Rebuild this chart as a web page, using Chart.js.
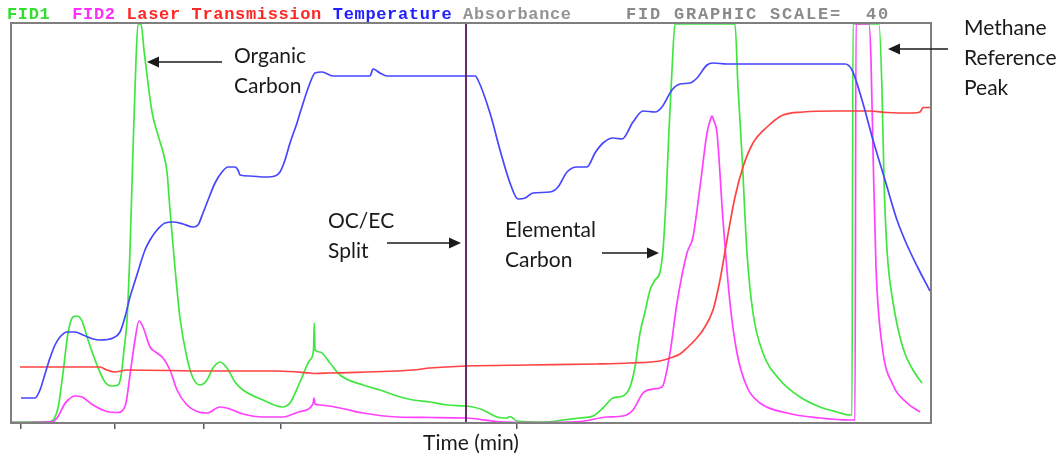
<!DOCTYPE html>
<html>
<head>
<meta charset="utf-8">
<title>Thermal-optical carbon analysis</title>
<script src="https://cdn.jsdelivr.net/npm/chart.js@4.4.1/dist/chart.umd.min.js"></script>
<style>
  html, body { margin: 0; padding: 0; background: #fff; }
  canvas { display: block; }
</style>
</head>
<body>
<canvas id="thermogram" width="1061" height="456"></canvas>
<script>
// run time in seconds, signals in instrument counts (0-400 fills the plot)
const fid1Time = [0,39,43,47,52,57,62,66,71,77,86,94,101,107,110,113,116,119,122,125,127,130,133,136,141,147,152,156,159,164,169,176,182,189,196,202,209,216,224,232,252,271,279,289,299,302.5,303.3,304,309,319,329,352,369,386,402,419,436,455,462,472,486,496,499,506,536,552,569,582,592,602,612,619,624,629,634,639,644,649,652,655,658,661,664,724,727,731,736,742,752,769,789,809,826,839,841,842,868,871,873,876,882,892,902,911];
const fid1Signal = [1,1.5,4,15,50,90,106,107,102,83,58,41,37,38,47,73,103,173,273,363,399,399,373,348,311,288,271,251,213,155,105,65,45,38,43,55,61,55,41,33,23,16,20,41,63,73,100,73,71,60,48,38,33,27,23,21,18,17,16,13,6,5,6.5,2,1,3,5,7,15,25,27,36,56,90,111,133,143,151,173,223,293,353,399,399,336,268,170,110,70,43,26,16,11,8,8,399,399,333,243,173,121,75,53,40];

const fid2Time = [0,42,46,49,53,57,64,71,82,96,107,112,115,119,124,128,132,139,146,152,159,166,176,186,196,209,219,232,252,272,289,302,303,304,309,329,352,386,419,455,486,519,569,596,612,622,632,642,651,659,666,676,682,689,696,699,701,703,706,712,719,726,736,749,776,809,839,844,845,858,860,862,865,871,882,896,909];
const fid2Signal = [0.5,1.5,5,10,18,23,27,26,18,11.5,10.5,13,20,48,83,102,96,76,70,65,53,33,18,11.5,10,16,14,9,6,6,11.5,19,25,19,18,15,10,6,5.5,5,1.5,0.5,1.5,6,7,13,30,34,36,70,120,170,186,236,290,302,307,302,290,203,120,70,36,20,10,5,3,3,399,399,363,273,156,78,38,20,11];

const laserTime = [9,89,96,104,116,199,266,299,304,319,402,419,455,519,586,619,649,659,669,676,684,692,702,709,716,724,732,742,756,772,792,826,859,876,902,909,912,919];
const laserSignal = [56,56,53,51,53,52,52,50,49.5,50,53,55,57,58,59,60,62,65,69,75,83,93,113,143,183,226,256,280,296,308,311,312,312,310.5,310,311,315.5,315.5];

const tempTime = [10,24,29,34,39,44,49,56,64,72,82,89,102,109,114,119,124,129,134,139,146,154,162,172,182,187,192,199,204,211,217,224,227,229,239,254,264,269,274,279,286,289,299,304,311,322,359,362,369,376,464,467,479,489,499,507,514,522,539,547,556,566,576,584,592,602,611,622,632,644,651,661,669,679,686,696,702,716,834,841,851,862,874,886,896,907,919];
const tempSignal = [25,25,33,49,65,78,86,91,91,88,84,83,85,91,106,126,142,158,173,183,193,200,201,199,196,198,210,228,240,251,256,256,253,248,247,246,247,251,263,280,300,310,340,350,351,347,347,354,350,347,347,343,310,273,240,224,225,230,231,236,251,256,256,270,280,285,284,301,312,311,316,333,339,340,345,358,360,359,359,353,323,283,243,203,178,155,132];

const splitTime = 455;
const tickTimes = [10, 104, 193, 270, 506];
const fidScale = 40;

const headerLabels = ['FID1', 'FID2', 'Laser Transmission', 'Temperature', 'Absorbance'];
const headerGaps = [2, 1, 1, 1, 0];
const headerColors = ['#2fe02f', '#ff2eff', '#ff2626', '#2020ff', '#939393'];

// call-outs, anchored in data units (time, signal)
const notes = [
  { lines: ['Organic', 'Carbon'], text: [223, 360], from: [211, 361], to: [136, 361] },
  { lines: ['OC/EC', 'Split'], text: [317, 195], from: [376, 180], to: [450, 180] },
  { lines: ['Elemental', 'Carbon'], text: [494, 186], from: [591, 170], to: [648, 170] },
  { lines: ['Methane', 'Reference', 'Peak'], text: [953, 388], from: [937, 374], to: [877, 374] }
];

const trace = (label, times, values, color) => ({
  label,
  borderColor: color,
  borderWidth: 1.7,
  pointRadius: 0,
  fill: false,
  cubicInterpolationMode: 'monotone',
  data: times.map((t, i) => ({ x: t, y: values[i] }))
});

// monospace instrument header along the top
const headerPlugin = {
  id: 'header',
  afterDraw(chart) {
    const ctx = chart.ctx;
    ctx.save();
    ctx.font = 'bold 17px "Liberation Mono", "Courier New", monospace';
    ctx.textBaseline = 'alphabetic';
    const put = (text, x0, adv, col) => {
      for (let i = 0; i < text.length; i++) ctx.fillText(text[i], x0 + (col + i) * adv, 19);
    };
    let col = 0;
    headerLabels.forEach((label, i) => {
      ctx.fillStyle = headerColors[i];
      put(label, 7, 10.86, col);
      col += label.length + headerGaps[i];
    });
    ctx.fillStyle = '#8a8a8a';
    put('FID GRAPHIC SCALE=  ' + fidScale, 626, 12, 0);
    ctx.restore();
  }
};

const framePlugin = {
  id: 'frame',
  afterDatasetsDraw(chart) {
    const { ctx, chartArea: a } = chart;
    ctx.save();
    ctx.strokeStyle = '#7f7f7f';
    ctx.lineWidth = 2;
    ctx.strokeRect(a.left, a.top, a.right - a.left, a.bottom - a.top);
    ctx.restore();
  }
};

const notesPlugin = {
  id: 'notes',
  afterDraw(chart) {
    const { ctx, scales: { x, y } } = chart;
    const px = p => [x.getPixelForValue(p[0]), y.getPixelForValue(p[1])];
    ctx.save();
    ctx.font = '21px Lato, "Open Sans", sans-serif';
    ctx.fillStyle = '#1a1a1a';
    ctx.strokeStyle = '#1a1a1a';
    ctx.lineWidth = 1.5;
    notes.forEach(n => {
      const [tx, ty] = px(n.text);
      n.lines.forEach((s, i) => ctx.fillText(s, tx, ty + i * 30));
      const [x1, y1] = px(n.from);
      const [x2, y2] = px(n.to);
      const dir = Math.sign(x2 - x1);
      ctx.beginPath();
      ctx.moveTo(x1, y1);
      ctx.lineTo(x2 - dir * 9, y2);
      ctx.stroke();
      ctx.beginPath();
      ctx.moveTo(x2, y2);
      ctx.lineTo(x2 - dir * 12, y2 - 5.5);
      ctx.lineTo(x2 - dir * 12, y2 + 5.5);
      ctx.closePath();
      ctx.fill();
    });
    ctx.restore();
  }
};

const ctx = document.getElementById('thermogram').getContext('2d');

const chart = new Chart(ctx, {
  type: 'line',
  data: {
    datasets: [
      {
        label: 'OC/EC split',
        borderColor: '#5a145e',
        borderWidth: 1.8,
        pointRadius: 0,
        data: [{ x: splitTime, y: 0 }, { x: splitTime, y: 400 }]
      },
      trace('Temperature', tempTime, tempSignal, '#4646ff'),
      trace('Laser Transmission', laserTime, laserSignal, '#ff4242'),
      trace('FID2', fid2Time, fid2Signal, '#ff40ff'),
      trace('FID1', fid1Time, fid1Signal, '#40e640')
    ]
  },
  options: {
    responsive: false,
    devicePixelRatio: 1,
    animation: false,
    layout: { padding: { left: 11, right: 130, top: 23, bottom: 0 } },
    plugins: { legend: { display: false }, tooltip: { enabled: false } },
    scales: {
      x: {
        type: 'linear',
        min: 0,
        max: 920,
        afterBuildTicks: scale => { scale.ticks = tickTimes.map(value => ({ value })); },
        afterFit: scale => { scale.height = 33; },
        ticks: { display: false },
        grid: { drawOnChartArea: false, drawTicks: true, tickLength: 6, color: '#5a5a5a', lineWidth: 1.5 },
        border: { display: false },
        title: {
          display: true,
          text: 'Time (min)',
          color: '#1a1a1a',
          font: { family: 'Lato', size: 21 },
          padding: 0
        }
      },
      y: { display: false, min: 0, max: 400 }
    }
  },
  plugins: [framePlugin, headerPlugin, notesPlugin]
});
</script>
</body>
</html>
